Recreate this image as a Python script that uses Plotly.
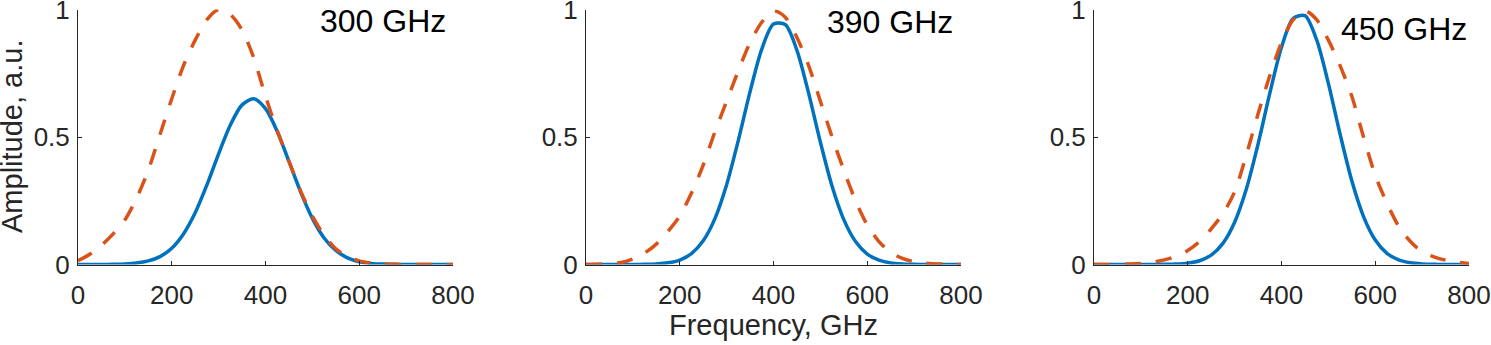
import plotly.graph_objects as go

freq = [0, 25, 50, 75, 100, 125, 150, 175, 200, 225, 250, 275, 300, 325, 350, 375, 400,
        425, 450, 475, 500, 525, 550, 575, 600, 625, 650, 675, 700, 725, 750, 775, 800]

# Panel 1 (300 GHz)
blue_300 = [0, 0, 0.0002, 0.0008, 0.002, 0.0055, 0.014, 0.031, 0.064, 0.12, 0.203, 0.312, 0.434,
            0.547, 0.626, 0.65, 0.611, 0.522, 0.404, 0.284, 0.181, 0.104, 0.055, 0.026, 0.011,
            0.0044, 0.0015, 0.0005, 0.0001, 0, 0, 0, 0]
red_300 = [0.015, 0.04, 0.075, 0.12, 0.175, 0.26, 0.37, 0.51, 0.65, 0.78, 0.88, 0.96, 1.0,
           0.98, 0.92, 0.81, 0.66, 0.525, 0.405, 0.288, 0.19, 0.115, 0.062, 0.031, 0.014,
           0.006, 0.002, 0.001, 0, 0, 0, 0, 0]

# Panel 2 (390 GHz)
blue_390 = [0, 0, 0, 0, 0.0002, 0.0008, 0.002, 0.0065, 0.0176, 0.043, 0.093, 0.18, 0.313,
            0.487, 0.678, 0.845, 0.943, 0.941, 0.84, 0.671, 0.48, 0.307, 0.176, 0.09, 0.041,
            0.017, 0.006, 0.002, 0.0006, 0, 0, 0, 0]
red_390 = [0, 0.001, 0.003, 0.008, 0.022, 0.045, 0.08, 0.13, 0.19, 0.28, 0.39, 0.52, 0.64,
           0.76, 0.87, 0.95, 0.995, 0.97, 0.89, 0.78, 0.64, 0.5, 0.37, 0.25, 0.155, 0.09,
           0.048, 0.024, 0.011, 0.005, 0.002, 0.001, 0]

# Panel 3 (450 GHz)
blue_450 = [0, 0, 0, 0, 0, 0, 0.0005, 0.0017, 0.0053, 0.0147, 0.037, 0.083, 0.166, 0.296,
            0.472, 0.671, 0.852, 0.965, 0.976, 0.881, 0.71, 0.511, 0.328, 0.188, 0.096, 0.044,
            0.018, 0.0065, 0.0021, 0.0006, 0, 0, 0]
red_450 = [0, 0, 0.001, 0.002, 0.004, 0.009, 0.018, 0.032, 0.055, 0.09, 0.14, 0.2, 0.285,
           0.43, 0.59, 0.74, 0.87, 0.96, 0.995, 0.96, 0.88, 0.78, 0.66, 0.5, 0.35, 0.24, 0.15,
           0.09, 0.05, 0.03, 0.017, 0.009, 0.004]

panel_labels = ["300 GHz", "390 GHz", "450 GHz"]
x_ticks = [0, 200, 400, 600, 800]
y_ticks = [0, 0.5, 1]
y_tick_text = ["0", "0.5", "1"]
x_title = "Frequency, GHz"
y_title = "Amplitude, a.u."

BLUE = "#0072BD"
RED = "#D95319"
AX = "#262626"
FONT = "Liberation Sans, Arial, sans-serif"

W, H = 1491, 345
x_domains = [(78, 453), (586, 961), (1094, 1469)]
y_pix = (264.5, 9.5)

fig = go.Figure()
series = [(blue_300, red_300), (blue_390, red_390), (blue_450, red_450)]
label_pos = [(383, 21), (890, 22), (1404, 29)]

for i, (b, r) in enumerate(series):
    xa = "x" if i == 0 else f"x{i+1}"
    ya = "y" if i == 0 else f"y{i+1}"
    fig.add_trace(go.Scatter(x=freq, y=b, mode="lines", xaxis=xa, yaxis=ya,
                             line=dict(color=BLUE, width=3.5, shape="spline", smoothing=0.8),
                             showlegend=False))
    fig.add_trace(go.Scatter(x=freq, y=r, mode="lines", xaxis=xa, yaxis=ya,
                             line=dict(color=RED, width=3.5, dash="16px,15px", shape="spline", smoothing=0.8),
                             showlegend=False))
    x0, x1 = x_domains[i]
    xkey = "xaxis" if i == 0 else f"xaxis{i+1}"
    ykey = "yaxis" if i == 0 else f"yaxis{i+1}"
    fig.update_layout(**{
        xkey: dict(domain=[x0 / W, x1 / W], range=[0, 800], tickvals=x_ticks,
                   ticks="inside", ticklen=4, tickcolor=AX, tickwidth=1,
                   showline=True, linecolor=AX, linewidth=1, showgrid=False, zeroline=False,
                   tickfont=dict(family=FONT, size=26, color=AX), anchor=ya,
                   ticklabelstandoff=7,
                   ticklabeloverflow="allow", automargin=False, fixedrange=True),
        ykey: dict(domain=[(H - y_pix[0]) / H, (H - y_pix[1]) / H], range=[0, 1],
                   tickvals=y_ticks, ticktext=y_tick_text,
                   ticks="inside", ticklen=4, tickcolor=AX, tickwidth=1,
                   showline=True, linecolor=AX, linewidth=1, showgrid=False, zeroline=False,
                   tickfont=dict(family=FONT, size=26, color=AX), anchor=xa,
                   ticklabelstandoff=2,
                   ticklabeloverflow="allow", automargin=False, fixedrange=True),
    })
    lx, ly = label_pos[i]
    fig.add_annotation(text=panel_labels[i], x=lx / W, y=(H - ly) / H, xref="paper", yref="paper",
                       showarrow=False, xanchor="center", yanchor="middle",
                       font=dict(family=FONT, size=32, color="black"))

fig.add_annotation(text=x_title, x=773.5 / W, y=(H - 325) / H, xref="paper", yref="paper",
                   showarrow=False, xanchor="center", yanchor="middle",
                   font=dict(family=FONT, size=29, color=AX))
fig.add_annotation(text=y_title, x=12 / W, y=(H - 137) / H, xref="paper", yref="paper",
                   showarrow=False, xanchor="center", yanchor="middle", textangle=-90,
                   font=dict(family=FONT, size=29, color=AX))

fig.update_layout(width=W, height=H, margin=dict(l=0, r=0, t=0, b=0, autoexpand=False),
                  paper_bgcolor="white", plot_bgcolor="white")

fig.write_html("out.html", config={"displayModeBar": False},
               post_script="document.body.style.margin='0px';document.body.style.overflow='hidden';")
